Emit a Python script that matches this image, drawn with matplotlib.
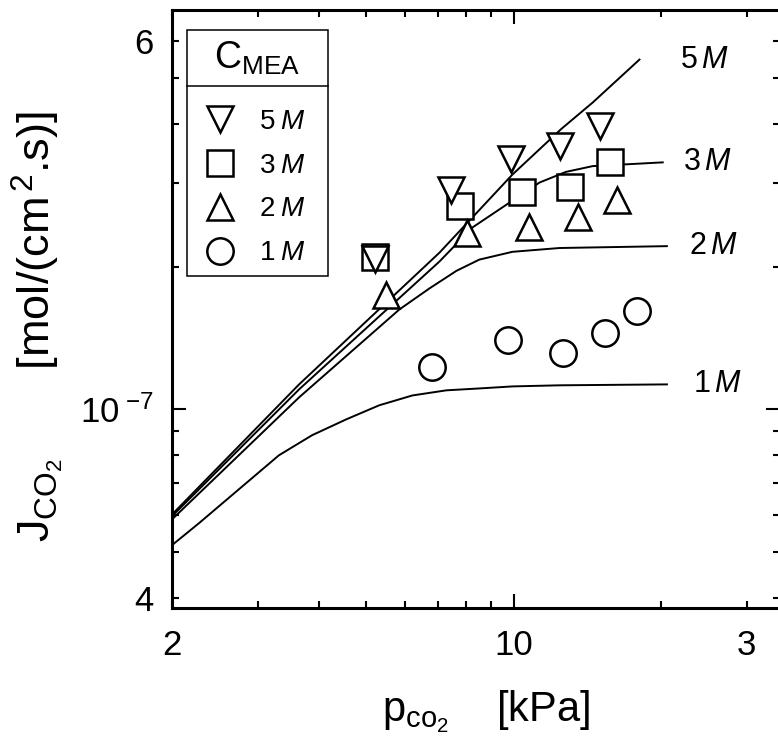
import matplotlib
matplotlib.use('Agg')
import matplotlib.pyplot as plt
from matplotlib.lines import Line2D
from matplotlib.ticker import FixedLocator, FixedFormatter, FuncFormatter

plt.rcParams['font.family'] = ['Liberation Sans', 'DejaVu Sans']
plt.rcParams['mathtext.fontset'] = 'custom'
plt.rcParams['mathtext.rm'] = 'Liberation Sans'
plt.rcParams['mathtext.it'] = 'Liberation Sans:italic'

# measured points, p_CO2 [kPa] vs J_CO2 [mol/(cm2.s)]
conc = ['5', '3', '2', '1']

p_5M = [5.21, 7.46, 9.90, 12.42, 15.0]
j_5M = [2.08e-7, 2.90e-7, 3.38e-7, 3.59e-7, 3.97e-7]
p_3M = [5.21, 7.78, 10.43, 13.02, 15.73]
j_3M = [2.10e-7, 2.68e-7, 2.87e-7, 2.95e-7, 3.32e-7]
p_2M = [5.49, 8.04, 10.78, 13.52, 16.26]
j_2M = [1.74e-7, 2.35e-7, 2.43e-7, 2.54e-7, 2.77e-7]
p_1M = [6.82, 9.72, 12.6, 15.36, 17.86]
j_1M = [1.226e-7, 1.398e-7, 1.313e-7, 1.446e-7, 1.61e-7]

# model curves
cp_5M = [2.0, 3.64, 7.05, 9.95, 12.54, 14.52, 18.1]
cj_5M = [6.00e-8, 1.129e-7, 2.14e-7, 3.13e-7, 3.91e-7, 4.44e-7, 5.47e-7]
cp_3M = [2.0, 3.64, 7.05, 8.24, 9.81, 11.3, 12.8, 14.52, 20.2]
cj_3M = [5.95e-8, 1.102e-7, 2.05e-7, 2.42e-7, 2.73e-7, 3.01e-7, 3.17e-7,
         3.26e-7, 3.32e-7]
cp_2M = [2.0, 3.64, 5.84, 6.73, 7.64, 8.51, 9.95, 12.42, 20.6]
cj_2M = [5.86e-8, 1.060e-7, 1.625e-7, 1.80e-7, 1.96e-7, 2.07e-7, 2.15e-7,
         2.19e-7, 2.21e-7]
cp_1M = [2.0, 2.27, 3.31, 3.87, 4.55, 5.31, 6.21, 7.29, 8.51, 9.95, 12.42,
         20.6]
cj_1M = [5.17e-8, 5.75e-8, 8.0e-8, 8.82e-8, 9.53e-8, 1.020e-7, 1.070e-7,
         1.097e-7, 1.107e-7, 1.118e-7, 1.124e-7, 1.129e-7]

label_p = [21.9, 22.2, 22.9, 23.3]

fig = plt.figure(figsize=(7.78, 7.44), dpi=100)
ax = fig.add_axes([172 / 778, 136 / 744, 608 / 778, 598 / 744])
ax.set_xscale('log')
ax.set_yscale('log')

curves = [(cp_5M, cj_5M), (cp_3M, cj_3M), (cp_2M, cj_2M), (cp_1M, cj_1M)]
for (cp, cj), c, lp in zip(curves, conc, label_p):
    ax.plot(cp, cj, color='black', lw=1.4, zorder=2)
    ax.text(lp, cj[-1], c + r'$\,\mathit{M}$', fontsize=22, ha='left',
            va='center')

mk = dict(ls='none', mfc='white', mec='black', mew=1.8)
h3, = ax.plot(p_3M, j_3M, marker='s', ms=18.5, zorder=3, **mk)
h5, = ax.plot(p_5M, j_5M, marker='v', ms=19, zorder=4, **mk)
h2, = ax.plot(p_2M, j_2M, marker='^', ms=19, zorder=4, **mk)
h1, = ax.plot(p_1M, j_1M, marker='o', ms=19, zorder=4, **mk)

ax.set_xlim(2, 35.1)
ax.set_ylim(3.81e-8, 6.96e-7)

ax.xaxis.set_major_locator(FixedLocator([10]))
ax.xaxis.set_major_formatter(FixedFormatter(['10']))
ax.xaxis.set_minor_locator(FixedLocator([2, 3, 4, 5, 6, 7, 8, 9, 20, 30]))
ax.xaxis.set_minor_formatter(FuncFormatter(
    lambda v, pos: {2: '2', 30: '3'}.get(int(round(v)), '')))

ax.yaxis.set_major_locator(FixedLocator([1e-7]))
ax.yaxis.set_major_formatter(FixedFormatter([r'10$^{\ \mathregular{-7}}$']))
ax.yaxis.set_minor_locator(FixedLocator(
    [4e-8, 5e-8, 6e-8, 7e-8, 8e-8, 9e-8, 2e-7, 3e-7, 4e-7, 5e-7, 6e-7]))
ax.yaxis.set_minor_formatter(FuncFormatter(
    lambda v, pos: '4' if abs(v - 4e-8) < 1e-9 else
    ('6' if abs(v - 6e-7) < 1e-8 else '')))

ax.tick_params(which='both', direction='in', top=True, right=True,
               width=1.5, labelsize=25)
ax.tick_params(which='major', length=10)
ax.tick_params(which='minor', length=5)
ax.tick_params(axis='x', which='both', pad=15)
ax.tick_params(axis='y', which='both', pad=13)
for s in ax.spines.values():
    s.set_linewidth(2.2)

ax.set_xlabel(r'$\mathrm{p}_{\mathrm{co}_{2}}$    [kPa]', fontsize=30)
ax.xaxis.set_label_coords(0.516, -0.134)
ax.set_ylabel(r'$\mathrm{J}_{\mathrm{CO}_{2}}$       [mol/(cm$^{\,2}$.s)]',
              fontsize=32.5)
ax.yaxis.set_label_coords(-0.176, 0.47)

leg = ax.legend([h5, h3, h2, h1], [c + r'$\;\mathit{M}$' for c in conc],
                title=r'C$_{\mathrm{MEA}}$', title_fontsize=27, fontsize=20,
                loc='upper left', bbox_to_anchor=(0.0247, 0.5602, 0.2319, 0.4064),
                mode='expand', borderaxespad=0, fancybox=False,
                edgecolor='black', framealpha=1, handlelength=1.65,
                handletextpad=0.58, labelspacing=0.64, borderpad=0.36,
                numpoints=1)
leg.get_frame().set_linewidth(1.1)
# extra room between the title and the entries
leg._legend_box.sep = 0.64 * 20 + 10

# divider line under the legend title
fig.canvas.draw()
fb = leg.get_frame().get_window_extent()
yd = (fb.y1 - 56) / fig.bbox.height
fig.add_artist(Line2D([fb.x0 / fig.bbox.width, fb.x1 / fig.bbox.width],
                      [yd, yd], color='black', lw=1.1))

fig.savefig('out.png', dpi=100)
